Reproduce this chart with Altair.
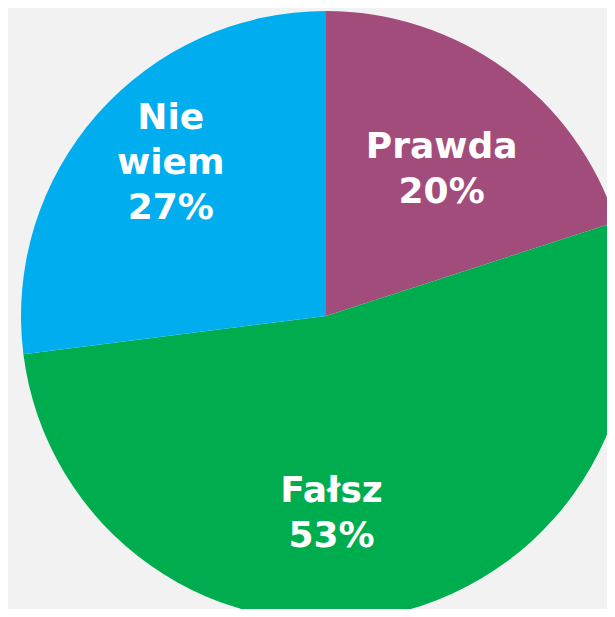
import math
import altair as alt
import pandas as pd

categories = ["Prawda", "Fałsz", "Nie wiem"]
values = [20, 53, 27]
colors = ["#a24c7c", "#00ad4e", "#00adee"]

total = sum(values)
labels = [c.replace(" ", "\n") + f"\n{v}%" for c, v in zip(categories, values)]

df = pd.DataFrame({
    "category": categories,
    "value": values,
    "order": list(range(len(categories))),
    "label": labels,
})

CX, CY, R = 318, 308, 305
theta_scale = alt.Scale(domain=[0, total], range=[0, 2 * math.pi])

pie = alt.Chart(df).mark_arc(outerRadius=R).encode(
    theta=alt.Theta("value:Q", stack=True, scale=theta_scale),
    order=alt.Order("order:Q"),
    color=alt.Color("category:N", scale=alt.Scale(domain=categories, range=colors), legend=None),
    x=alt.value(CX),
    y=alt.value(CY),
)

offsets = {"Prawda": (1, -11), "Fałsz": (-37, -15), "Nie wiem": (-9, -69)}

layers = [pie]
for cat in categories:
    dx, dy = offsets[cat]
    t = alt.Chart(df).transform_window(
        cum="sum(value)", sort=[alt.SortField("order")]
    ).transform_calculate(
        mid="datum.cum - datum.value / 2"
    ).transform_filter(
        alt.datum.category == cat
    ).mark_text(
        font="DejaVu Sans", fontWeight="bold", fontSize=36, color="white",
        lineBreak="\n", lineHeight=45, align="center", baseline="middle",
        dx=dx, dy=dy,
    ).encode(
        theta=alt.Theta("mid:Q", stack=None, scale=theta_scale),
        radius=alt.value(195),
        text="label:N",
        x=alt.value(CX),
        y=alt.value(CY),
    )
    layers.append(t)

chart = alt.layer(*layers).properties(
    width=599, height=601, autosize="none", padding=0, background="#f2f2f2"
).configure_view(stroke=None)

chart.save("out.html", embed_options={"renderer": "svg", "actions": False})
